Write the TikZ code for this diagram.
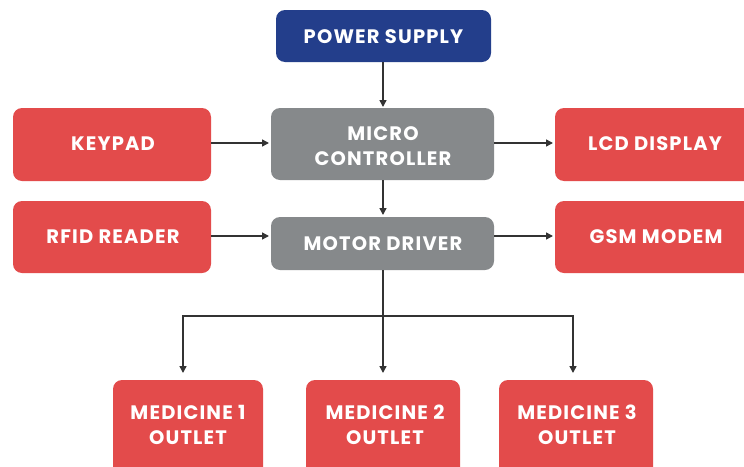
\documentclass[tikz,border=0pt]{standalone}
\usepackage{fontspec}
\setmainfont{Poppins}[LetterSpace=6]
\usetikzlibrary{arrows.meta}
\definecolor{boxred}{HTML}{E34B4B}
\definecolor{boxblue}{HTML}{233E8B}
\definecolor{boxgray}{HTML}{86898B}
\definecolor{linec}{HTML}{333333}
\begin{document}
\begin{tikzpicture}[x=1pt,y=-1pt,
  blk/.style={text=white, font=\fontsize{19.5}{24.5}\selectfont\bfseries, align=center, inner sep=0pt},
  conn/.style={draw=linec, line width=1.5pt, -{Triangle[length=7pt,width=7pt]}},
  plain/.style={draw=linec, line width=1.5pt}]
\useasboundingbox (0,0) rectangle (744,466);
\clip (0,0) rectangle (744,466);
% boxes
\fill[boxblue, rounded corners=9pt] (276,10) rectangle (491,62);
\node[blk] (ps) at (383.5,37) {POWER SUPPLY};
\fill[boxgray, rounded corners=9pt] (271,108) rectangle (494,180);
\node[blk] (mc) at (383,146) {MICRO\\CONTROLLER};
\fill[boxgray, rounded corners=9pt] (271,217) rectangle (494,270);
\node[blk] (md) at (383,244) {MOTOR DRIVER};
\fill[boxred, rounded corners=9pt] (13,108) rectangle (211,181);
\node[blk] (kp) at (113,144) {KEYPAD};
\fill[boxred, rounded corners=9pt] (13,201) rectangle (211,273);
\node[blk] (rf) at (113,237) {RFID READER};
\fill[boxred, rounded corners=9pt] (555,108) rectangle (756,181);
\node[blk] (lcd) at (655,144) {LCD DISPLAY};
\fill[boxred, rounded corners=9pt] (555,201) rectangle (756,273);
\node[blk] (gsm) at (656,237) {GSM MODEM};
\fill[boxred, rounded corners=9pt] (113,380) rectangle (263,480);
\node[blk] (m1) at (188,425) {MEDICINE 1\\OUTLET};
\fill[boxred, rounded corners=9pt] (306,380) rectangle (460,480);
\node[blk] (m2) at (385,425) {MEDICINE 2\\OUTLET};
\fill[boxred, rounded corners=9pt] (499,380) rectangle (653,480);
\node[blk] (m3) at (577,425) {MEDICINE 3\\OUTLET};
% anchor coordinates
\coordinate (psb) at (383,62);
\coordinate (mct) at (383,107);
\coordinate (mcb) at (383,180);
\coordinate (mdt) at (383,215);
\coordinate (mdb) at (383,270);
\coordinate (kpr) at (211,143);
\coordinate (mcl) at (269,143);
\coordinate (mcr) at (494,143);
\coordinate (lcdl) at (553,143);
\coordinate (rfr) at (211,236);
\coordinate (mdl) at (269,236);
\coordinate (mdr) at (494,236);
\coordinate (gsml) at (553,236);
\coordinate (split) at (383,316);
\coordinate (m1t) at (183,373);
\coordinate (m2t) at (383,373);
\coordinate (m3t) at (573,373);
% connectors
\draw[conn] (psb) -- (mct);
\draw[conn] (mcb) -- (mdt);
\draw[conn] (kpr) -- (mcl);
\draw[conn] (mcr) -- (lcdl);
\draw[conn] (rfr) -- (mdl);
\draw[conn] (mdr) -- (gsml);
\draw[plain] (mdb) -- (split);
\draw[conn] (split) -| (m1t);
\draw[conn] (split) -- (m2t);
\draw[conn] (split) -| (m3t);
\end{tikzpicture}
\end{document}
